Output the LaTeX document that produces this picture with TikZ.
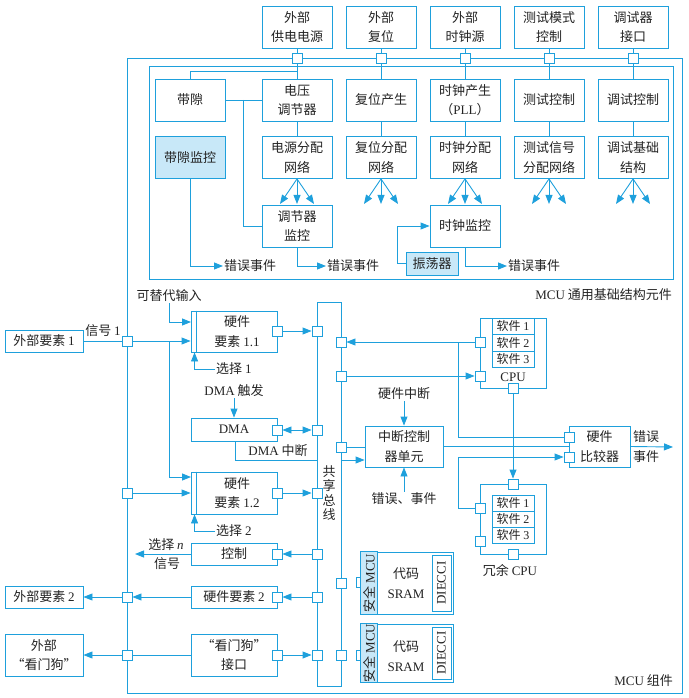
\documentclass[tikz,border=0pt]{standalone}
\usepackage{fontspec}
\setmainfont{Noto Sans CJK SC}
\newfontfamily\lfont{Liberation Serif}
\newcommand\latn[1]{{\lfont #1}}
\usetikzlibrary{arrows.meta,calc}
\definecolor{bl}{RGB}{30,160,220}
\definecolor{lbf}{RGB}{200,232,248}
\definecolor{tx}{RGB}{35,35,35}
\tikzset{
  ln/.style={draw=bl, line width=0.9pt},
  arr/.style={ln, -{Triangle[length=9pt,width=7pt]}},
  darr/.style={ln, {Triangle[length=9pt,width=7pt]}-{Triangle[length=9pt,width=7pt]}},
  box/.style={ln, fill=white, align=center, inner sep=0pt, text=tx},
  tb/.style={box, minimum width=70pt, minimum height=42pt},
  port/.style={ln, fill=white, minimum size=10pt, inner sep=0pt},
  sbox/.style={draw=bl, line width=0.8pt, fill=white, minimum width=42pt, inner sep=0pt, font=\fontsize{12}{14}\selectfont, text=tx},
  lbl/.style={text=tx, inner sep=1pt, align=center},
}
\begin{document}
\begin{tikzpicture}[x=1pt,y=-1pt, every node/.append style={font=\fontsize{13}{19.5}\selectfont}]
\useasboundingbox (0,0) rectangle (688,698);
% containers
\draw[ln] (127,58) rectangle (682,693);
\draw[ln] (149,66) rectangle (673,279);
\node[lbl, anchor=east] (lab1) at (673,295) {\latn{MCU} 通用基础结构元件};
\node[lbl, anchor=east] (lab2) at (674,681) {\latn{MCU} 组件};

% ---------- top ----------
\node[tb] (t1) at (297,27) {外部\\供电电源};
\node[tb] (t2) at (381,27) {外部\\复位};
\node[tb] (t3) at (465,27) {外部\\时钟源};
\node[tb] (t4) at (549,27) {测试模式\\控制};
\node[tb] (t5) at (633,27) {调试器\\接口};
\node[tb] (bg) at (190,100) {带隙};
\node[tb] (vr) at (297,100) {电压\\调节器};
\node[tb] (rg) at (381,100) {复位产生};
\node[tb] (cg) at (465,100) {时钟产生\\（\latn{PLL}）};
\node[tb] (tc) at (549,100) {测试控制};
\node[tb] (dc) at (633,100) {调试控制};
\node[tb, fill=lbf] (bgm) at (190,157.5) {带隙监控};
\node[tb] (pd) at (297,157.5) {电源分配\\网络};
\node[tb] (rd) at (381,157.5) {复位分配\\网络};
\node[tb] (cd) at (465,157.5) {时钟分配\\网络};
\node[tb] (td) at (549,157.5) {测试信号\\分配网络};
\node[tb] (dd) at (633,157.5) {调试基础\\结构};
\node[tb] (vm) at (297,226) {调节器\\监控};
\node[tb] (cm) at (465,226) {时钟监控};
\node[box, fill=lbf, minimum width=52pt, minimum height=23pt] (osc) at (432,263.5) {振荡器};
\node[port] (p1) at (297,58) {};
\node[port] (p2) at (381,58) {};
\node[port] (p3) at (465,58) {};
\node[port] (p4) at (549,58) {};
\node[port] (p5) at (633,58) {};

\draw[ln] (t1.south) -- (p1.north);
\draw[ln] (p1.south) -- (vr.north);
\coordinate (j0) at (297,71);
\draw[ln] (j0) -| (bg.north);
\draw[ln] (bg.east) -- (vr.west);
\coordinate (j1) at (243,100);
\draw[ln] (j1) |- (vm.west);
\draw[ln] (vr.south) -- (pd.north);
\draw[ln] (t2.south) -- (p2.north);
\draw[ln] (p2.south) -- (rg.north);
\draw[ln] (rg.south) -- (rd.north);
\draw[ln] (t3.south) -- (p3.north);
\draw[ln] (p3.south) -- (cg.north);
\draw[ln] (cg.south) -- (cd.north);
\draw[ln] (t4.south) -- (p4.north);
\draw[ln] (p4.south) -- (tc.north);
\draw[ln] (tc.south) -- (td.north);
\draw[ln] (t5.south) -- (p5.north);
\draw[ln] (p5.south) -- (dc.north);
\draw[ln] (dc.south) -- (dd.north);
\foreach \n in {pd,rd,cd,td,dd}{
  \draw[arr] (\n.south) -- ++(-17,25);
  \draw[arr] (\n.south) -- ++(0,25);
  \draw[arr] (\n.south) -- ++(17,25);
}
\node[lbl, anchor=west] (e1t) at (223,266) {错误事件};
\draw[arr] (bgm.south) |- (e1t.west);
\node[lbl, anchor=west] (e2t) at (326,266) {错误事件};
\draw[arr] (vm.south) |- (e2t.west);
\node[lbl, anchor=west] (e3t) at (507,266) {错误事件};
\draw[arr] (cm.south) |- (e3t.west);
\coordinate (j2) at (397,263.5);
\draw[arr] (osc.west) -- (j2) |- (cm.west);

% ---------- bus ----------
\node[draw=bl, line width=0.9pt, minimum width=24pt, minimum height=384pt, inner sep=0pt] (bus) at (329,494) {};
\node[lbl, font=\fontsize{13}{14.5}\selectfont] (bust) at (329,493) {共\\享\\总\\线};
\node[port] (bl1) at (317,331) {};
\node[port] (bl2) at (317,430) {};
\node[port] (bl3) at (317,493) {};
\node[port] (bl4) at (317,554) {};
\node[port] (bl5) at (317,597) {};
\node[port] (bl6) at (317,655) {};
\node[port] (br1) at (341,342) {};
\node[port] (br2) at (341,376) {};
\node[port] (br3) at (341,447) {};
\node[port] (br4) at (341,583) {};
\node[port] (br5) at (341,655) {};

% ---------- left ----------
\node[box, minimum width=78pt, minimum height=22pt] (ext1) at (44,341) {外部要素 \latn{1}};
\node[port] (op1) at (127,341) {};
\node[lbl] (sig1) at (103,331) {信号 \latn{1}};
\node[box, minimum width=86pt, minimum height=41pt] (hw11) at (234,331.5) {};
\draw[ln] ($(hw11.north west)+(6,0)$) -- ($(hw11.south west)+(6,0)$);
\node[lbl] (hw11t) at (237,331.5) {硬件\\要素 \latn{1.1}};
\node[port] (hp1) at (277,331) {};
\node[lbl] (alt) at (169,296) {可替代输入};
\coordinate (ai) at (191,322);
\draw[arr] (alt.south) |- (ai);
\draw[ln] (ext1.east) -- (op1.west);
\draw[arr] (op1.east) -- (hw11.west |- op1);
\coordinate (j4) at (169,341);
\coordinate (a12) at (191,477);
\draw[arr] (j4) |- (a12);
\node[lbl, anchor=west] (sel1) at (215,369) {选择 \latn{1}};
\draw[arr] (sel1.west) -| ($(hw11.south west)+(4,0)$);
\draw[arr] (hp1.east) -- (bl1.west);

\node[lbl] (dmat) at (234,391) {\latn{DMA} 触发};
\node[box, minimum width=86pt, minimum height=23pt] (dma) at (234,429.5) {\latn{DMA}};
\draw[arr] (dmat.south) -- (dma.north);
\node[port] (dp) at (277,430) {};
\draw[darr] (dp.east) -- (bl2.west);
\node[lbl] (dmai) at (278,451) {\latn{DMA} 中断};
\coordinate (dmaiend) at (317,460);
\draw[ln] ($(dma.south)+(1,0)$) |- (dmaiend);

\node[box, minimum width=86pt, minimum height=42pt] (hw12) at (234,493) {};
\draw[ln] ($(hw12.north west)+(6,0)$) -- ($(hw12.south west)+(6,0)$);
\node[lbl] (hw12t) at (237,493) {硬件\\要素 \latn{1.2}};
\node[port] (hp2) at (277,493) {};
\draw[arr] (hp2.east) -- (bl3.west);
\node[port] (op2) at (127,493) {};
\draw[arr] (op2.east) -- (hw12.west |- op2);
\node[lbl, anchor=west] (sel2) at (215,531) {选择 \latn{2}};
\draw[arr] (sel2.west) -| ($(hw12.south west)+(4,0)$);

\node[box, minimum width=86pt, minimum height=22pt] (ctrl) at (234,554) {控制};
\node[port] (cp) at (277,554) {};
\draw[arr] (bl4.west) -- (cp.east);
\node[lbl] (seln) at (166,545) {选择 {\lfont\itshape n}};
\node[lbl] (sigs) at (167,564) {信号};
\coordinate (selnend) at (135,554);
\draw[arr] (ctrl.west) -- (selnend);

\node[box, minimum width=86pt, minimum height=22pt] (hw2) at (234,597) {硬件要素 \latn{2}};
\node[port] (h2p) at (277,597) {};
\node[port] (op3) at (127,597) {};
\node[box, minimum width=78pt, minimum height=22pt] (ext2) at (44,597) {外部要素 \latn{2}};
\draw[arr] (bl5.west) -- (h2p.east);
\draw[arr] (hw2.west) -- (op3.east);
\draw[arr] (op3.west) -- (ext2.east);

\node[box, minimum width=86pt, minimum height=42pt] (wd) at (234,655) {“看门狗”\\接口};
\node[port] (wp) at (277,655) {};
\node[port] (op4) at (127,655) {};
\node[box, minimum width=78pt, minimum height=42pt] (ewd) at (44,655) {外部\\“看门狗”};
\draw[arr] (wp.east) -- (bl6.west);
\draw[ln] (wd.west) -- (op4.east);
\draw[arr] (op4.west) -- (ewd.east);

% ---------- right ----------
\node[box, minimum width=66pt, minimum height=70pt] (cpu) at (513,353) {};
\node[sbox, minimum height=16.5pt] (s1) at (513,326.25) {软件 \latn{1}};
\node[sbox, minimum height=16.5pt] (s2) at (513,342.75) {软件 \latn{2}};
\node[sbox, minimum height=16.5pt] (s3) at (513,359.25) {软件 \latn{3}};
\node[lbl] (cput) at (513,377) {\latn{CPU}};
\node[port] (cl1) at (480,342) {};
\node[port] (cl2) at (480,376) {};
\node[port] (cb) at (513,388) {};

\node[box, minimum width=66pt, minimum height=70pt] (rcpu) at (513,519) {};
\node[sbox, minimum height=16pt] (r1) at (513,503) {软件 \latn{1}};
\node[sbox, minimum height=16pt] (r2) at (513,519) {软件 \latn{2}};
\node[sbox, minimum height=16pt] (r3) at (513,535) {软件 \latn{3}};
\node[port] (rt) at (513,484) {};
\node[port] (rl1) at (480,508) {};
\node[port] (rl2) at (480,541) {};
\node[port] (rb) at (513,554) {};
\node[lbl] (rcput) at (510,570) {冗余 \latn{CPU}};

\node[lbl] (hwi) at (404,394) {硬件中断};
\node[box, minimum width=78pt, minimum height=41pt] (ic) at (404,446.5) {中断控制\\器单元};
\node[lbl] (errev) at (404,499) {错误、事件};
\draw[arr] (hwi.south) -- (ic.north);
\draw[arr] (errev.north) -- (ic.south);

\node[box, minimum width=61pt, minimum height=41pt] (cmp) at (599.5,446.5) {硬件\\比较器};
\node[port] (cp1) at (569,437) {};
\node[port] (cp2) at (569,457) {};
\coordinate (erre) at (673,447);
\draw[arr] (cmp.east) -- (erre);
\node[lbl] (errt1) at (646,437) {错误};
\node[lbl] (errt2) at (646,457) {事件};

\draw[arr] (cl1.west) -- (br1.east);
\coordinate (j5) at (458,342);
\draw[ln] (j5) |- (cp1.west);
\draw[arr] (br2.east) -- (cl2.west);
\draw[ln] (br3.east) -- (ic.west |- br3);
\coordinate (bi) at (341,460);
\draw[arr] (bi) -- (ic.west |- bi);
\draw[ln] (ic.east) -- (cmp.west |- ic.east);
\coordinate (j6) at (458,508);
\draw[arr] (rl1.west) -- (j6) |- (cp2.west);
\draw[arr] (cb.south) -- (rt.north);

% ---------- safety memories ----------
\node[box, minimum width=92pt, minimum height=62pt] (sm1) at (407,583) {};
\node[port] (mp1) at (361,582) {};
\draw[ln, fill=lbf] (sm1.north west) rectangle ($(sm1.south west)+(17,0)$);
\node[rotate=90, text=tx, inner sep=0pt] (sm1l) at (369.5,583) {安全 \latn{MCU}};
\node[draw=bl, line width=0.8pt, minimum width=19pt, minimum height=56pt, inner sep=0pt] (di1) at (441.5,583) {};
\node[rotate=90, text=tx, inner sep=0pt] (di1t) at (di1.center) {\latn{DIECCI}};
\node[lbl] (sm1t) at (406,583) {代码\\\latn{SRAM}};

\node[box, minimum width=92pt, minimum height=58pt] (sm2) at (407,653) {};
\node[port] (mp2) at (361,655) {};
\draw[ln, fill=lbf] (sm2.north west) rectangle ($(sm2.south west)+(17,0)$);
\node[rotate=90, text=tx, inner sep=0pt] (sm2l) at (369.5,653) {安全 \latn{MCU}};
\node[draw=bl, line width=0.8pt, minimum width=19pt, minimum height=52pt, inner sep=0pt] (di2) at (441.5,653) {};
\node[rotate=90, text=tx, inner sep=0pt] (di2t) at (di2.center) {\latn{DIECCI}};
\node[lbl] (sm2t) at (406,656) {代码\\\latn{SRAM}};
\end{tikzpicture}
\end{document}
